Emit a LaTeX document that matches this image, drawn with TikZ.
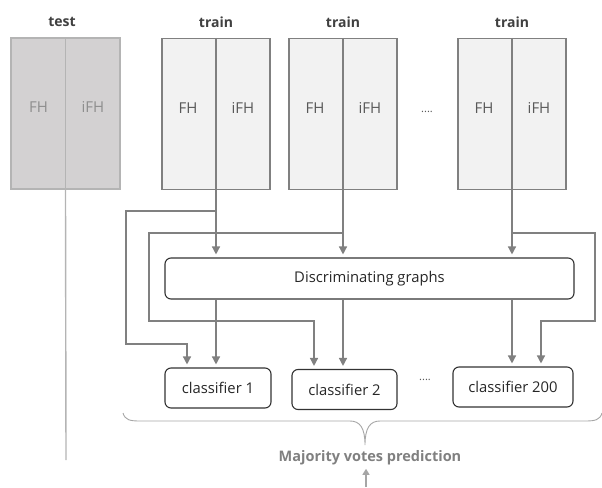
\documentclass[tikz,border=0pt]{standalone}
\usepackage{fontspec}
\setmainfont{Open Sans}
\usetikzlibrary{arrows.meta}
\definecolor{ln}{HTML}{808080}
\definecolor{trfill}{HTML}{F2F2F2}
\definecolor{tsfill}{HTML}{D3D1D2}
\definecolor{tsborder}{HTML}{B4B4B4}
\definecolor{tstext}{HTML}{8E8E8E}
\definecolor{trtext}{HTML}{595959}
\definecolor{dk}{HTML}{333333}
\definecolor{brc}{HTML}{A6A6A6}
\begin{document}
\begin{tikzpicture}[x=1pt,y=-1pt,
  trainbox/.style={draw=ln, fill=trfill, line width=1.4pt, minimum width=108pt, minimum height=151pt, inner sep=0pt},
  testbox/.style={draw=tsborder, fill=tsfill, line width=1.4pt, minimum width=109pt, minimum height=151pt, inner sep=0pt},
  rbox/.style={draw=dk, line width=1.1pt, rounded corners=6pt, inner sep=0pt, font=\fontsize{14.8}{17}\selectfont, text=black!85},
  lbl/.style={font=\fontsize{14}{16}\selectfont\bfseries, text=black!75},
  half/.style={font=\fontsize{15}{17}\selectfont, text=trtext},
  halft/.style={font=\fontsize{15}{17}\selectfont, text=tstext},
  dots/.style={font=\fontsize{11}{12}\selectfont, text=trtext},
  con/.style={draw=ln, line width=1.4pt},
  arr/.style={con, -{Triangle[width=8pt,length=8pt]}, shorten >=3pt}
]
\useasboundingbox (0,0) rectangle (602,487);

% test box
\node[testbox] (test) at (65.5,113.5) {};
\draw[draw=tsborder, line width=1.4pt] (test.north) -- (test.south);
\node[halft] (testfh) at (38.5,107) {FH};
\node[halft] (testifh) at (93,107) {iFH};
\node[lbl] (testlbl) at (62,22) {test};
\coordinate (testend) at (66,460);
\draw[draw=tsborder, line width=1.4pt] (test.south) -- (testend);

% train boxes
\foreach \n/\cx in {tr1/216, tr2/343, tr3/512}{
  \node[trainbox] (\n) at (\cx,114) {};
  \draw[con] (\n.north) -- (\n.south);
  \node[half] (\n fh) at (\cx-28,108) {FH};
  \node[half] (\n ifh) at (\cx+27,108) {iFH};
  \node[lbl] (\n lbl) at (\cx,22) {train};
}
\node[dots] (dotsA) at (427,112) {....};

% discriminating graphs
\node[rbox, minimum width=409pt, minimum height=41pt] (disc) at (369.5,278.5) {Discriminating graphs};

% classifiers
\node[rbox, minimum width=106pt, minimum height=40pt] (c1) at (218,388) {classifier 1};
\node[rbox, minimum width=105pt, minimum height=40pt] (c2) at (344.5,389.5) {classifier 2};
\node[rbox, minimum width=120pt, minimum height=40pt] (c3) at (513,387) {classifier 200};
\node[dots] (dotsB) at (425,380) {....};

% connectors train -> disc
\draw[arr] (tr1.south) -- (tr1.south |- disc.north);
\draw[arr] (tr2.south) -- (tr2.south |- disc.north);
\draw[arr] (tr3.south) -- (tr3.south |- disc.north);

% connectors disc -> classifiers
\draw[arr] (tr1.south |- disc.south) -- (tr1.south |- c1.north);
\draw[arr] (tr2.south |- disc.south) -- (tr2.south |- c2.north);
\draw[arr] (tr3.south |- disc.south) -- (tr3.south |- c3.north);

% bypass connectors
\coordinate (b1) at (216,211);
\coordinate (b2) at (343,233);
\coordinate (b3) at (512,233);
\draw[arr] (b1) -- (126,211) -- (126,344) -- (187,344) -- (187,0 |- c1.north);
\draw[arr] (b2) -- (149,233) -- (149,321) -- (314,321) -- (314,0 |- c2.north);
\draw[arr] (b3) -- (595,233) -- (595,321) -- (541,321) -- (541,0 |- c3.north);

% brace
\draw[draw=brc, line width=0.9pt]
  (123,413) .. controls (125,420) and (130,421) .. (140,421)
  -- (350,421) .. controls (360,421) and (365,428) .. (365,445)
  .. controls (365,428) and (370,421) .. (380,421)
  -- (585,421) .. controls (595,421) and (600,420) .. (602,413);
\node[font=\fontsize{14.5}{16}\selectfont\bfseries, text=ln] (maj) at (370,458) {Majority votes prediction};
\coordinate (arrstart) at (366,487);
\draw[draw=brc, line width=1.2pt, -{Triangle[width=7pt,length=6pt]}] (arrstart) -- (maj.south -| arrstart);
\end{tikzpicture}
\end{document}
